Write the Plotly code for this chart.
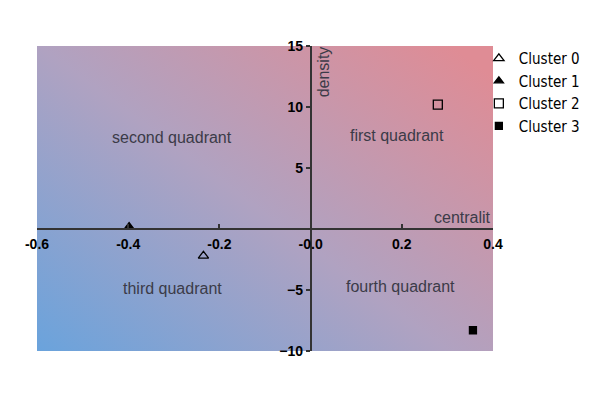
"""Strategic diagram: cluster centrality vs density with quadrant labels."""
import base64
import plotly.graph_objects as go

# cluster positions (centrality, density)
clusters = ["Cluster 0", "Cluster 1", "Cluster 2", "Cluster 3"]
centrality = [-0.235, -0.398, 0.279, 0.356]
density = [-2.2, 0.2, 10.2, -8.3]
marker_symbols = ["triangle-up-open", "triangle-up", "square-open", "square"]
marker_sizes = [9, 8, 9, 7]

quadrant_names = ["first quadrant", "second quadrant", "third quadrant", "fourth quadrant"]
quadrant_x = [0.19, -0.305, -0.302, 0.198]
quadrant_y = [7.7, 7.5, -4.9, -4.75]

x_ticks = [-0.6, -0.4, -0.2, 0.0, 0.2, 0.4]
x_ticktext = ["-0.6", "-0.4", "-0.2", "-0.0", "0.2", "0.4"]
y_ticks = [-10, -5, 5, 10, 15]

# diagonal blue -> pink background
svg = (
    '<svg xmlns="http://www.w3.org/2000/svg" width="100" height="100" preserveAspectRatio="none">'
    '<defs><linearGradient id="g" x1="0" y1="1" x2="1" y2="0.1">'
    '<stop offset="0" stop-color="#6aa3dc"/>'
    '<stop offset="0.5" stop-color="#b0a2c1"/>'
    '<stop offset="1" stop-color="#df8c95"/>'
    '</linearGradient></defs>'
    '<rect width="100" height="100" fill="url(#g)"/></svg>'
)
bg_uri = "data:image/svg+xml;base64," + base64.b64encode(svg.encode()).decode()

label_font = dict(family="Liberation Sans, Arial", size=16, color="#3b3b48")

fig = go.Figure()

for name, x, y, sym, sz in zip(clusters, centrality, density, marker_symbols, marker_sizes):
    fig.add_trace(go.Scatter(
        x=[x], y=[y], mode="markers", name=name,
        marker=dict(symbol=sym, size=sz, color="black", line=dict(color="black", width=1.3)),
    ))

for name, x, y in zip(quadrant_names, quadrant_x, quadrant_y):
    fig.add_annotation(x=x, y=y, text=name, showarrow=False, font=label_font)

fig.add_annotation(x=0.006, y=15, text="density", textangle=-90, showarrow=False,
                   xanchor="left", yanchor="top", yshift=2, font=label_font)
fig.add_annotation(x=0.4, y=0, text="centralit", showarrow=False,
                   xanchor="right", yanchor="bottom", yshift=1, font=label_font)

fig.add_layout_image(dict(source=bg_uri, xref="paper", yref="paper", x=0, y=1,
                          sizex=1, sizey=1, sizing="stretch", layer="below"))

axis_font = dict(family="Liberation Sans, Arial", size=14, color="black", weight="bold")

# the page body adds an 8px offset, so the figure is 8px smaller each way
fig.update_layout(
    width=592, height=392,
    margin=dict(l=29, r=107, t=38, b=49, autoexpand=False),
    paper_bgcolor="white",
    plot_bgcolor="rgba(0,0,0,0)",
    showlegend=True,
    legend=dict(x=0.969, y=1.013, xanchor="left", yanchor="top",
                font=dict(family="DejaVu Sans Condensed", size=15, color="black"),
                itemsizing="trace", tracegroupgap=0, bgcolor="rgba(0,0,0,0)"),
    xaxis=dict(range=[-0.6, 0.4], anchor="free", position=0.4, automargin=False,
               showgrid=False, zeroline=False, showline=True, linecolor="#333", linewidth=1.5,
               ticks="inside", ticklen=4, tickcolor="#333", tickwidth=1.5,
               tickvals=x_ticks, ticktext=x_ticktext, tickfont=axis_font, ticklabelstandoff=2),
    yaxis=dict(range=[-10, 15], anchor="free", position=0.6, automargin=False,
               showgrid=False, zeroline=False, showline=True, linecolor="#333", linewidth=1.5,
               ticks="outside", ticklen=4, tickcolor="#333", tickwidth=1.5,
               tickvals=y_ticks, tickfont=axis_font),
)

fig.write_html("out.html")
